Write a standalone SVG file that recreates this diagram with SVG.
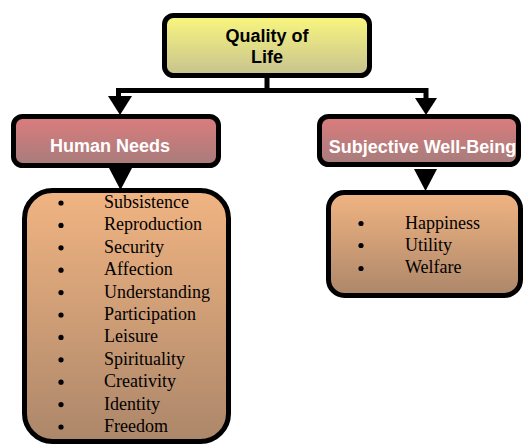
<svg xmlns="http://www.w3.org/2000/svg" width="525" height="446" viewBox="0 0 525 446">
<defs>
<linearGradient id="gY" x1="0" y1="0" x2="0" y2="1"><stop offset="0" stop-color="#faf77e"/><stop offset="1" stop-color="#c6c290"/></linearGradient>
<linearGradient id="gR" x1="0" y1="0" x2="0" y2="1"><stop offset="0" stop-color="#dc7c7c"/><stop offset="1" stop-color="#a77c7c"/></linearGradient>
<linearGradient id="gO" x1="0" y1="0" x2="0" y2="1"><stop offset="0" stop-color="#f1b482"/><stop offset="1" stop-color="#ac876a"/></linearGradient>
</defs>
<style>
.box{stroke:#000;stroke-width:5}
.hd{font-family:"Liberation Sans",Arial,sans-serif;font-weight:bold;font-size:18px;text-anchor:middle}
.li{font-family:"Liberation Serif","Times New Roman",serif;font-size:18px;fill:#000}
.conn{fill:none;stroke:#000;stroke-width:5}
</style>
<g id="connectors">
<path class="conn" d="M267,76 V90.5 M116,90.5 H428.5 M118.5,90.5 V98 M426,90.5 V99"/>
<polygon points="108,96 132,96 120,115"/>
<polygon points="415,98 437,98 426,115"/>
<polygon points="109,168 132,168 120.5,190"/>
<polygon points="414,169 437,169 425.5,191"/>
</g>
<g id="quality">
<rect class="box" x="164.5" y="15.5" width="205" height="60" rx="9" fill="url(#gY)"/>
<text class="hd" x="267" y="42">Quality of</text>
<text class="hd" x="267" y="63">Life</text>
</g>
<g id="human-needs">
<rect class="box" x="13.5" y="116.5" width="205" height="49" rx="9" fill="url(#gR)"/>
<text class="hd" x="110" y="152" fill="#fff">Human Needs</text>
</g>
<g id="subjective">
<rect class="box" x="319.5" y="116.5" width="199" height="48" rx="9" fill="url(#gR)"/>
<text class="hd" x="422.5" y="153" fill="#fff" font-size="17.5">Subjective Well-Being</text>
</g>
<g id="needs-list">
<rect class="box" x="24.5" y="190.5" width="204" height="251" rx="28" fill="url(#gO)"/>
<g fill="#000">
<circle cx="61" cy="203" r="2.6"/><circle cx="61" cy="225.4" r="2.6"/><circle cx="61" cy="247.8" r="2.6"/><circle cx="61" cy="270.2" r="2.6"/><circle cx="61" cy="292.6" r="2.6"/><circle cx="61" cy="315" r="2.6"/><circle cx="61" cy="337.4" r="2.6"/><circle cx="61" cy="359.8" r="2.6"/><circle cx="61" cy="382.2" r="2.6"/><circle cx="61" cy="404.6" r="2.6"/><circle cx="61" cy="427" r="2.6"/>
</g>
<text class="li" x="104" y="208">Subsistence</text>
<text class="li" x="104" y="230.4">Reproduction</text>
<text class="li" x="104" y="252.8">Security</text>
<text class="li" x="104" y="275.2">Affection</text>
<text class="li" x="104" y="297.6">Understanding</text>
<text class="li" x="104" y="320">Participation</text>
<text class="li" x="104" y="342.4">Leisure</text>
<text class="li" x="104" y="364.8">Spirituality</text>
<text class="li" x="104" y="387.2">Creativity</text>
<text class="li" x="104" y="409.6">Identity</text>
<text class="li" x="104" y="432">Freedom</text>
</g>
<g id="wellbeing-list">
<rect class="box" x="328.5" y="192.5" width="192" height="103" rx="16" fill="url(#gO)"/>
<g fill="#000"><circle cx="361" cy="223.5" r="2.6"/><circle cx="361" cy="245.5" r="2.6"/><circle cx="361" cy="268.5" r="2.6"/></g>
<text class="li" x="405" y="228.5">Happiness</text>
<text class="li" x="405" y="250.5">Utility</text>
<text class="li" x="405" y="273">Welfare</text>
</g>
</svg>
